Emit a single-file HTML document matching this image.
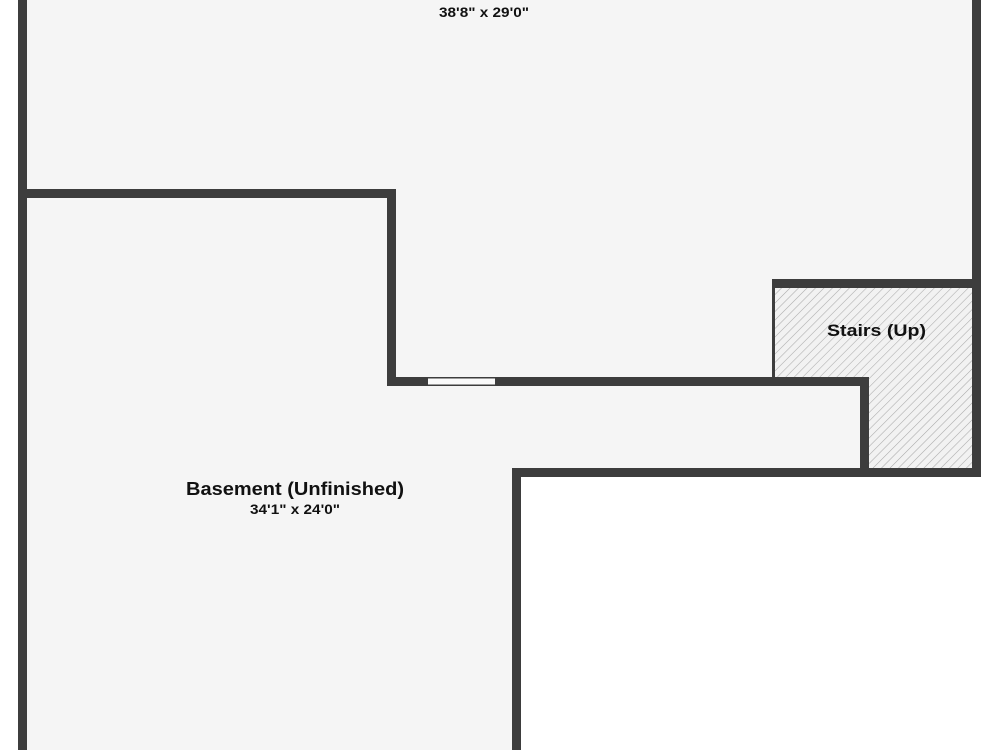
<!DOCTYPE html>
<html><head><meta charset="utf-8"><style>
html,body{margin:0;padding:0;background:#fff;}
svg{display:block}
text{font-family:"Liberation Sans","DejaVu Sans",sans-serif;fill:#111;}
</style></head><body>
<svg width="1000" height="750" viewBox="0 0 1000 750" xmlns="http://www.w3.org/2000/svg">
<defs>
<pattern id="h" patternUnits="userSpaceOnUse" width="6" height="6" patternTransform="rotate(45)">
<rect width="6" height="6" fill="#f2f2f2"/>
<line x1="0" y1="0" x2="0" y2="6" stroke="#aaa" stroke-width="1.1"/>
</pattern>
</defs>
<rect width="1000" height="750" fill="#fff"/>
<polygon points="18,0 981,0 981,477 521,477 521,750 18,750" fill="#f5f5f5"/>
<polygon points="772,284 976,284 976,473 865,473 865,381 772,381" fill="url(#h)"/>
<g fill="#3d3d3d">
<rect x="18" y="0" width="9" height="750"/>
<rect x="972" y="0" width="9" height="477"/>
<rect x="18" y="189" width="378" height="9"/>
<rect x="387" y="189" width="9" height="197"/>
<rect x="387" y="377" width="482" height="9"/>
<rect x="772" y="279" width="209" height="9"/>
<rect x="772" y="288" width="3" height="90"/>
<rect x="860" y="377" width="9" height="100"/>
<rect x="512" y="468" width="469" height="9"/>
<rect x="512" y="468" width="9" height="282"/>
</g>
<rect x="428" y="378.5" width="67" height="6" fill="#fafafa"/>
<text x="439" y="17" font-size="14" font-weight="bold" textLength="90" lengthAdjust="spacingAndGlyphs" fill="#222">38'8" x 29'0"</text>
<text x="186" y="495" font-size="18" font-weight="bold" textLength="218" lengthAdjust="spacingAndGlyphs">Basement (Unfinished)</text>
<text x="250" y="514" font-size="14" font-weight="bold" textLength="90" lengthAdjust="spacingAndGlyphs" fill="#222">34'1" x 24'0"</text>
<text x="827" y="336" font-size="17" font-weight="bold" textLength="99" lengthAdjust="spacingAndGlyphs">Stairs (Up)</text>
</svg>
</body></html>
